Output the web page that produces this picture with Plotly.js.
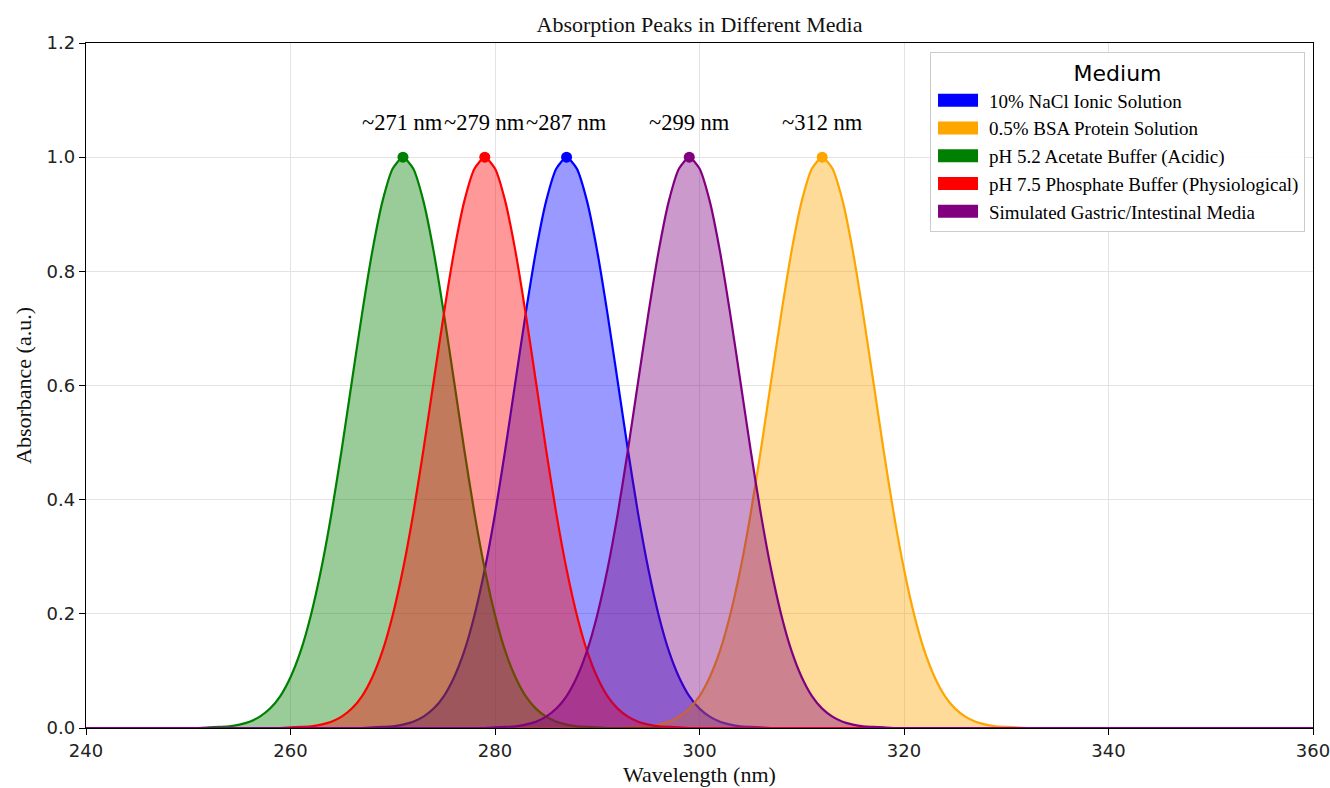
<!DOCTYPE html>
<html>
<head>
<meta charset="utf-8">
<script src="https://cdn.plot.ly/plotly-3.0.1.min.js"></script>
<style>
  html, body { margin: 0; padding: 0; background: #fff; }
  #chart { width: 1330px; height: 788px; }
</style>
</head>
<body>
<div id="chart"></div>
<script>
// Absorption spectra of one chromophore in five media (absorbance normalised to 1 at the peak)
const mediaNames = [
  "10% NaCl Ionic Solution",
  "0.5% BSA Protein Solution",
  "pH 5.2 Acetate Buffer (Acidic)",
  "pH 7.5 Phosphate Buffer (Physiological)",
  "Simulated Gastric/Intestinal Media"
];
const mediaColors = ["#0000ff", "#ffa500", "#008000", "#ff0000", "#800080"];
const fillColors = [
  "rgba(0,0,255,0.4)", "rgba(255,165,0,0.4)", "rgba(0,128,0,0.4)",
  "rgba(255,0,0,0.4)", "rgba(128,0,128,0.4)"
];
const peakWavelengths = [287, 312, 271, 279, 299];
const peakLabels = ["~287 nm", "~312 nm", "~271 nm", "~279 nm", "~299 nm"];

// Sampled spectra (nm, a.u.); each band is flat at zero outside the listed points
const naclWavelength = [240, 267,268,269,270,271,272,273,274,275,276,277,278,279,280,281,282,283,284,285,286,287,288,289,290,291,292,293,294,295,296,297,298,299,300,301,302,303,304,305,306,307, 360];
const naclAbsorbance = [0, 0.000,0.001,0.002,0.003,0.006,0.011,0.020,0.034,0.056,0.089,0.135,0.198,0.278,0.375,0.487,0.607,0.726,0.835,0.923,0.980,1.000,0.980,0.923,0.835,0.726,0.607,0.487,0.375,0.278,0.198,0.135,0.089,0.056,0.034,0.020,0.011,0.006,0.003,0.002,0.001,0.000, 0];

const bsaWavelength = [240, 292,293,294,295,296,297,298,299,300,301,302,303,304,305,306,307,308,309,310,311,312,313,314,315,316,317,318,319,320,321,322,323,324,325,326,327,328,329,330,331,332, 360];
const bsaAbsorbance = [0, 0.000,0.001,0.002,0.003,0.006,0.011,0.020,0.034,0.056,0.089,0.135,0.198,0.278,0.375,0.487,0.607,0.726,0.835,0.923,0.980,1.000,0.980,0.923,0.835,0.726,0.607,0.487,0.375,0.278,0.198,0.135,0.089,0.056,0.034,0.020,0.011,0.006,0.003,0.002,0.001,0.000, 0];

const acetateWavelength = [240, 251,252,253,254,255,256,257,258,259,260,261,262,263,264,265,266,267,268,269,270,271,272,273,274,275,276,277,278,279,280,281,282,283,284,285,286,287,288,289,290,291, 360];
const acetateAbsorbance = [0, 0.000,0.001,0.002,0.003,0.006,0.011,0.020,0.034,0.056,0.089,0.135,0.198,0.278,0.375,0.487,0.607,0.726,0.835,0.923,0.980,1.000,0.980,0.923,0.835,0.726,0.607,0.487,0.375,0.278,0.198,0.135,0.089,0.056,0.034,0.020,0.011,0.006,0.003,0.002,0.001,0.000, 0];

const phosphateWavelength = [240, 259,260,261,262,263,264,265,266,267,268,269,270,271,272,273,274,275,276,277,278,279,280,281,282,283,284,285,286,287,288,289,290,291,292,293,294,295,296,297,298,299, 360];
const phosphateAbsorbance = [0, 0.000,0.001,0.002,0.003,0.006,0.011,0.020,0.034,0.056,0.089,0.135,0.198,0.278,0.375,0.487,0.607,0.726,0.835,0.923,0.980,1.000,0.980,0.923,0.835,0.726,0.607,0.487,0.375,0.278,0.198,0.135,0.089,0.056,0.034,0.020,0.011,0.006,0.003,0.002,0.001,0.000, 0];

const gastricWavelength = [240, 279,280,281,282,283,284,285,286,287,288,289,290,291,292,293,294,295,296,297,298,299,300,301,302,303,304,305,306,307,308,309,310,311,312,313,314,315,316,317,318,319, 360];
const gastricAbsorbance = [0, 0.000,0.001,0.002,0.003,0.006,0.011,0.020,0.034,0.056,0.089,0.135,0.198,0.278,0.375,0.487,0.607,0.726,0.835,0.923,0.980,1.000,0.980,0.923,0.835,0.726,0.607,0.487,0.375,0.278,0.198,0.135,0.089,0.056,0.034,0.020,0.011,0.006,0.003,0.002,0.001,0.000, 0];

const peakAbsorbance = [1.0, 1.0, 1.0, 1.0, 1.0];

const xTicks = [240, 260, 280, 300, 320, 340, 360];
const yTicks = [0.0, 0.2, 0.4, 0.6, 0.8, 1.0, 1.2];

const spectra = [
  [naclWavelength, naclAbsorbance],
  [bsaWavelength, bsaAbsorbance],
  [acetateWavelength, acetateAbsorbance],
  [phosphateWavelength, phosphateAbsorbance],
  [gastricWavelength, gastricAbsorbance]
];

const serif = "Liberation Serif, Times New Roman, serif";
const sans = "DejaVu Sans, sans-serif";

const traces = [];
spectra.forEach(([wl, ab], i) => {
  traces.push({
    type: "scatter", mode: "lines",
    x: wl, y: ab,
    name: mediaNames[i],
    fill: "tozeroy", fillcolor: fillColors[i],
    line: { color: mediaColors[i], width: 2.2, shape: "spline", smoothing: 0.6 },
    showlegend: false, hoverinfo: "skip"
  });
});
// Peak markers
spectra.forEach((_, i) => {
  traces.push({
    type: "scatter", mode: "markers",
    x: [peakWavelengths[i]], y: [peakAbsorbance[i]],
    marker: { color: mediaColors[i], size: 11 },
    showlegend: false, hoverinfo: "skip"
  });
});
// Legend entries as solid colour patches
mediaNames.forEach((name, i) => {
  traces.push({
    type: "scatter", mode: "none",
    x: [null], y: [null],
    name: name, fill: "toself", fillcolor: mediaColors[i],
    showlegend: true
  });
});

const annotations = peakWavelengths.map((w, i) => ({
  x: w, y: peakAbsorbance[i], xref: "x", yref: "y",
  text: peakLabels[i], showarrow: false,
  yanchor: "bottom", yshift: 20,
  font: { family: serif, size: 22.5, color: "#000" }
}));

const layout = {
  width: 1330, height: 788,
  margin: { l: 86, r: 17, t: 43, b: 60 },
  paper_bgcolor: "#fff", plot_bgcolor: "#fff",
  title: {
    text: "Absorption Peaks in Different Media",
    font: { family: serif, size: 22, color: "#111" },
    xref: "paper", x: 0.5, xanchor: "center", y: 0.969, yanchor: "middle"
  },
  xaxis: {
    range: [240, 360], tickvals: xTicks, ticktext: xTicks.map(String),
    showgrid: true, gridcolor: "#e3e3e3", gridwidth: 1,
    showline: true, linecolor: "#000", linewidth: 1.3, mirror: true,
    ticks: "outside", ticklen: 6, tickcolor: "#000",
    tickfont: { family: sans, size: 18, color: "#222" },
    ticklabeloverflow: "allow",
    zeroline: false,
    title: { text: "Wavelength (nm)", font: { family: serif, size: 22, color: "#111" }, standoff: 6 }
  },
  yaxis: {
    range: [0, 1.2], tickvals: yTicks, ticktext: yTicks.map(v => v.toFixed(1)),
    showgrid: true, gridcolor: "#e3e3e3", gridwidth: 1,
    showline: true, linecolor: "#000", linewidth: 1.3, mirror: true,
    ticks: "outside", ticklen: 6, tickcolor: "#000",
    tickfont: { family: sans, size: 18, color: "#222" },
    zeroline: false,
    title: { text: "Absorbance (a.u.)", font: { family: serif, size: 22, color: "#111" }, standoff: 8 }
  },
  legend: {
    x: 0.9935, xanchor: "right", y: 0.987, yanchor: "top",
    bgcolor: "rgba(255,255,255,0.9)", bordercolor: "#cccccc", borderwidth: 1,
    font: { family: serif, size: 19, color: "#000" },
    title: { text: "Medium", font: { family: sans, size: 22, color: "#000" }, side: "top center" },
    itemwidth: 48
  },
  annotations: annotations,
  showlegend: true
};

// Widen the legend swatches into solid rectangular patches
function drawLegendPatches(gd) {
  gd.querySelectorAll(".legend .traces").forEach((item, i) => {
    const color = mediaColors[i % mediaColors.length];
    item.querySelectorAll(".legendfill path, .legendlines path").forEach(p => {
      p.setAttribute("d", "M7,-6.5h40v13h-40z");
      p.style.fill = color;
      p.style.fillOpacity = 1;
      p.style.stroke = "none";
    });
  });
}

const chartDiv = document.getElementById("chart");
Plotly.newPlot(chartDiv, traces, layout, { displayModeBar: false, staticPlot: true })
  .then(gd => drawLegendPatches(gd));
</script>
</body>
</html>
